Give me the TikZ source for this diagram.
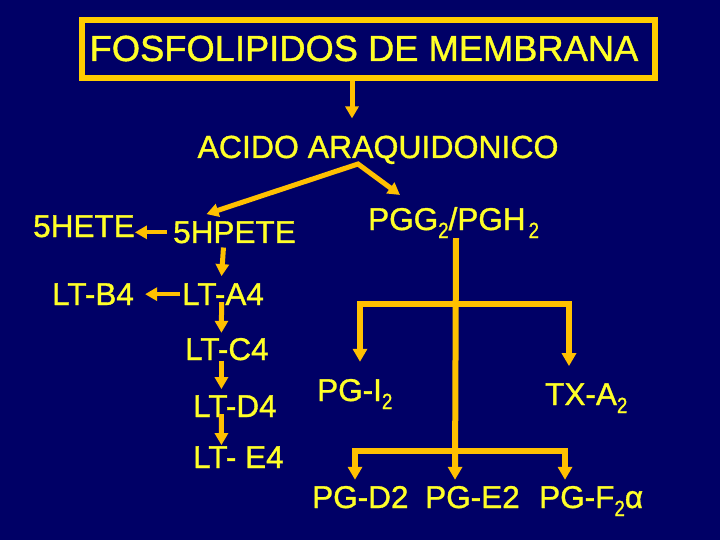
\documentclass[tikz,border=0pt]{standalone}
\usepackage{graphicx}
\usepackage{fontspec}
\setmainfont{Liberation Sans}[FakeBold=1.1]
\usetikzlibrary{arrows.meta,calc}
\definecolor{bgc}{RGB}{0,0,102}
\definecolor{txt}{RGB}{255,255,40}
\definecolor{arc}{RGB}{255,192,0}
\definecolor{boxc}{RGB}{255,204,0}
\newcommand{\mysub}[1]{\raisebox{-8pt}{\scalebox{0.85}[1]{\fontsize{22}{22}\selectfont #1}}}
\tikzset{
  lbl/.style={text=txt, inner sep=0pt, font=\fontsize{31.5}{36}\selectfont, anchor=base west},
  tipA/.tip={Triangle[width=13pt,length=12pt]},
  tipB/.tip={Triangle[width=14pt,length=13pt]},
  arr/.style={draw=arc, line width=5pt, -tipA},
  arrS/.style={draw=arc, line width=4pt, -tipA},
  both/.style={draw=arc, line width=5pt, tipA-tipA},
  pgl/.style={draw=arc, line width=6pt},
  pgboth/.style={draw=arc, line width=6pt, tipB-tipB},
  pgarr/.style={draw=arc, line width=6pt, -tipB}
}
\begin{document}
\begin{tikzpicture}[x=1pt,y=-1pt]
\fill[bgc] (0,0) rectangle (720,540);
\useasboundingbox (0,0) rectangle (720,540);

% title box
\node[draw=boxc, line width=6pt, minimum width=573pt, minimum height=58pt, inner sep=0pt] (box) at (368.5,49) {};
\node[lbl, anchor=base, font=\fontsize{36.3}{40}\selectfont] (title) at (364,61) {FOSFOLIPIDOS DE MEMBRANA};

% labels
\node[lbl, anchor=base, font=\fontsize{32}{36}\selectfont] (acid) at (378,158) {ACIDO ARAQUIDONICO};
\node[lbl] (hete) at (33,237) {5HETE};
\node[lbl] (hpete) at (173,243) {5HPETE};
\node[lbl] (ltb) at (52,305) {LT-B4};
\node[lbl] (lta) at (182,305) {LT-A4};
\node[lbl] (ltc) at (185,360) {LT-C4};
\node[lbl] (ltd) at (193,417) {LT-D4};
\node[lbl] (lte) at (193,468) {LT- E4};
\node[lbl] (pgg) at (368,230) {PGG\mysub{2}/PGH\kern3pt\mysub{2}};
\node[lbl] (pgi) at (317,401) {PG-I\mysub{2}};
\node[lbl] (txa) at (545,405) {TX-A\mysub{2}};
\node[lbl] (pgd) at (312,508) {PG-D2};
\node[lbl] (pge) at (425,508) {PG-E2};
\node[lbl] (pgf) at (539,508) {PG-F\mysub{2}α};

% arrows
\draw[arr] ($(box.south)+(-16.5,0)$) -- ($(acid.north)+(-26,-17)$);
\coordinate (peak) at (358,164);
\draw[both] ($(hpete.north)+(-28,-7)$) -- (peak) -- ($(pgg.north west)+(32,-12)$);
\draw[arrS] ($(hpete.west)+(-6,0)$) -- (hete.east |- hpete.west);
\draw[arrS] ($(lta.west)+(-2,0)$) -- ($(ltb.east |- lta.west)+(11,0)$);
\draw[arr] ($(hpete.south)+(-11,4)$) -- ($(lta.north)+(-1.5,-7)$);
\draw[arr] ($(lta.south)+(-1.5,-3)$) -- ($(ltc.north)+(-5.5,-5)$);
\draw[arr] ($(ltc.south)+(-5.5,0)$) -- ($(ltd.north)+(-13.5,-6)$);
\draw[arr] ($(ltd.south)+(-13.5,-3)$) -- ($(lte.north)+(-17,-1)$);

% prostaglandin tree
\coordinate (j1) at (456,304);
\coordinate (j2) at (456,451);
\draw[pgarr] (pgg.south -| j1) -- ($(pge.north west)+(30,-6)$);
\draw[pgboth] ($(pgi.north west)+(43,-17)$) |- (j1) -| ($(txa.north west)+(24,-17)$);
\draw[pgboth] ($(pgd.north west)+(43,-6)$) |- (j2) -| ($(pgf.north west)+(26,-6)$);
\end{tikzpicture}
\end{document}
